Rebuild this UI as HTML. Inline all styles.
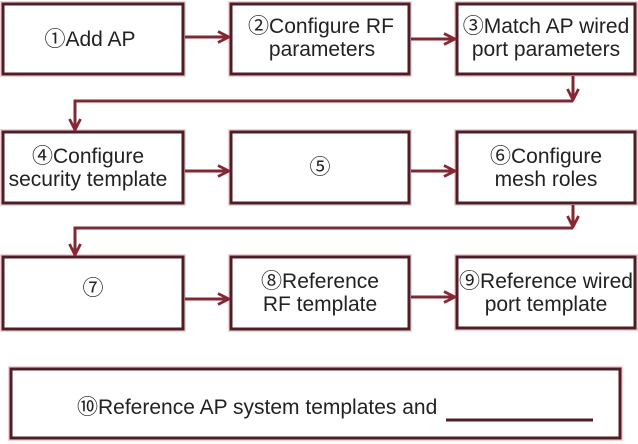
<!DOCTYPE html>
<html><head><meta charset="utf-8"><style>
html,body{margin:0;padding:0;background:#fff;}
svg{display:block;}
text{font-family:"Liberation Sans","Noto Sans CJK SC",sans-serif;font-size:21px;fill:#222;}
</style></head><body>
<svg width="638" height="444" viewBox="0 0 638 444" xmlns="http://www.w3.org/2000/svg">
<defs>
<marker id="ah" viewBox="0 0 10 10" refX="9" refY="5" markerWidth="4.6" markerHeight="4.6" orient="auto" markerUnits="strokeWidth">
<path d="M1,1 L9,5 L1,9" fill="none" stroke="#8a2633" stroke-width="2"/>
</marker>
</defs>
<g fill="none" stroke="#f2d4d7" stroke-width="6">
<rect x="3" y="4" width="180" height="70"/>
<rect x="231" y="4" width="178" height="70"/>
<rect x="457" y="4" width="178" height="70"/>
<rect x="3" y="132" width="180" height="71"/>
<rect x="231" y="132" width="178" height="71"/>
<rect x="457" y="132" width="178" height="71"/>
<rect x="3" y="257" width="180" height="72"/>
<rect x="231" y="257" width="178" height="72"/>
<rect x="457" y="257" width="178" height="71"/>
<rect x="11" y="369" width="609" height="69"/>
</g>
<g fill="#fff" stroke="#4e1e26" stroke-width="3">
<rect x="3" y="4" width="180" height="70"/>
<rect x="231" y="4" width="178" height="70"/>
<rect x="457" y="4" width="178" height="70"/>
<rect x="3" y="132" width="180" height="71"/>
<rect x="231" y="132" width="178" height="71"/>
<rect x="457" y="132" width="178" height="71"/>
<rect x="3" y="257" width="180" height="72"/>
<rect x="231" y="257" width="178" height="72"/>
<rect x="457" y="257" width="178" height="71"/>
<rect x="11" y="369" width="609" height="69"/>
</g>
<g fill="none" stroke="#7e2a34" stroke-width="3">
<line x1="185" y1="37" x2="229" y2="37" marker-end="url(#ah)"/>
<line x1="411" y1="39" x2="455" y2="39" marker-end="url(#ah)"/>
<line x1="185" y1="171" x2="229" y2="171" marker-end="url(#ah)"/>
<line x1="411" y1="171" x2="455" y2="171" marker-end="url(#ah)"/>
<line x1="185" y1="299" x2="229" y2="299" marker-end="url(#ah)"/>
<line x1="411" y1="297" x2="455" y2="297" marker-end="url(#ah)"/>
<line x1="573" y1="76" x2="573" y2="100" marker-end="url(#ah)"/>
<polyline points="573,101 75,101 75,130" marker-end="url(#ah)"/>
<line x1="573" y1="205" x2="573" y2="227" marker-end="url(#ah)"/>
<polyline points="573,228 75,228 75,255" marker-end="url(#ah)"/>
</g>
<line x1="446" y1="420" x2="593" y2="420" stroke="#4e1e26" stroke-width="3"/>
<g text-anchor="middle">
<text x="90" y="46">①Add AP</text>
<text x="321" y="33">②Configure RF</text>
<text x="322" y="56">parameters</text>
<text x="546" y="33">③Match AP wired</text>
<text x="546" y="56">port parameters</text>
<text x="88" y="163">④Configure</text>
<text x="88" y="186">security template</text>
<text x="320" y="174">⑤</text>
<text x="546" y="163">⑥Configure</text>
<text x="546" y="186">mesh roles</text>
<text x="93" y="295">⑦</text>
<text x="320" y="288">⑧Reference</text>
<text x="320" y="311">RF template</text>
<text x="546" y="288">⑨Reference wired</text>
<text x="546" y="311">port template</text>
</g>
<text x="77" y="414">⑩Reference AP system templates and</text>
</svg>
</body></html>
